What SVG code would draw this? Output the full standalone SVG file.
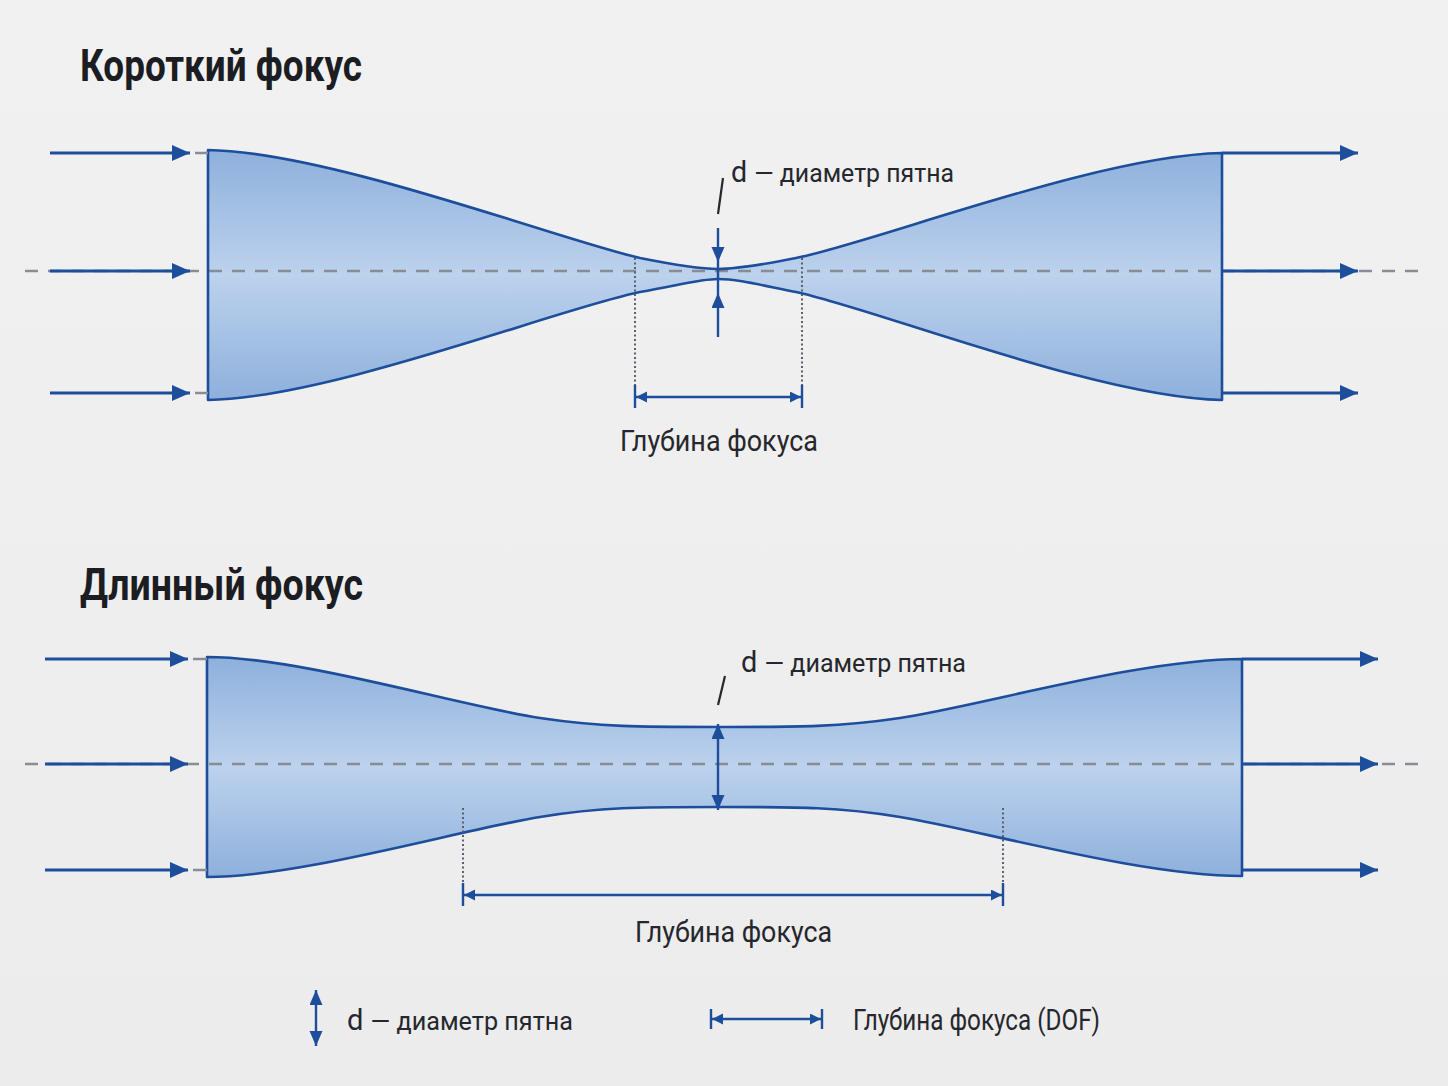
<svg xmlns="http://www.w3.org/2000/svg" width="1448" height="1086" viewBox="0 0 1448 1086">
<style>
.title{font-family:Roboto,"Liberation Sans",sans-serif;font-weight:700;font-size:44px;fill:#1c1d22}
.lbl{font-family:Roboto,"Liberation Sans",sans-serif;font-size:30px;fill:#26272c}
.sm{font-size:26px}
.beam{stroke:#1d4e9b;stroke-width:2.6;stroke-linejoin:round}
.axis{stroke:#878c95;stroke-width:2.5;stroke-dasharray:13 10;fill:none}
.gdash{stroke:#878c95;stroke-width:2.5}
.ray{stroke:#1d4e9b;stroke-width:2.8;fill:none}
.dim{stroke:#1d4e9b;stroke-width:2.4;fill:none}
.dot{stroke:#5d6068;stroke-width:2;stroke-dasharray:2 2.5;fill:none}
.lead{stroke:#26272c;stroke-width:2.2}
</style>
<defs>
<linearGradient id="bg" x1="0" y1="0" x2="0" y2="1">
<stop offset="0" stop-color="#f1f1f2"/><stop offset="1" stop-color="#ececed"/>
</linearGradient>
<linearGradient id="fill" x1="0" y1="0" x2="0" y2="1">
<stop offset="0" stop-color="#8eb0dc"/>
<stop offset="0.5" stop-color="#bcd2ed"/>
<stop offset="1" stop-color="#8eb0dc"/>
</linearGradient>
<marker id="ah" markerUnits="userSpaceOnUse" markerWidth="20" markerHeight="18" refX="18" refY="8" orient="auto-start-reverse">
<path d="M0,0 L18,8 L0,16 z" fill="#1d4e9b"/>
</marker>
<marker id="ahm" markerUnits="userSpaceOnUse" markerWidth="16" markerHeight="14" refX="15" refY="6.5" orient="auto-start-reverse">
<path d="M0,0 L15,6.5 L0,13 z" fill="#1d4e9b"/>
</marker>
<marker id="ahs" markerUnits="userSpaceOnUse" markerWidth="12" markerHeight="12" refX="11" refY="5.5" orient="auto-start-reverse">
<path d="M0,0 L11,5.5 L0,11 z" fill="#1d4e9b"/>
</marker>
</defs>
<rect width="1448" height="1086" fill="url(#bg)"/>

<!-- Short focus -->
<g id="title-short"><text class="title" x="80" y="81" textLength="282" lengthAdjust="spacingAndGlyphs">Короткий фокус</text></g>
<g id="beam-short">
<path fill="url(#fill)" d="M208,150 C330,152 560,240 640,258 C680,266 700,269 718,269 C736,269 756,266 796,258 C876,242 1100,155 1222,153 L1222,400 C1100,398 876,309 796,292 C756,284 736,279 718,279 C700,279 680,285 640,292 C560,308 330,398 208,400 Z"/>
<line class="axis" x1="25" y1="271" x2="1420" y2="271"/>
<path class="beam" fill="none" d="M208,400 L208,150 C330,152 560,240 640,258 C680,266 700,269 718,269 C736,269 756,266 796,258 C876,242 1100,155 1222,153 L1222,400 C1100,398 876,309 796,292 C756,284 736,279 718,279 C700,279 680,285 640,292 C560,308 330,398 208,400 Z"/>
</g>
<g id="dof-short">
<line class="dot" x1="635" y1="258" x2="635" y2="408"/>
<line class="dot" x1="802" y1="258" x2="802" y2="408"/>
<text class="lbl" x="620" y="451" textLength="198" lengthAdjust="spacingAndGlyphs">Глубина фокуса</text>
</g>
<g id="spot-short">
<line class="lead" x1="718" y1="214" x2="723" y2="178"/>
<text class="lbl" x="731" y="182" textLength="223" lengthAdjust="spacingAndGlyphs">d <tspan class="sm">— диаметр пятна</tspan></text>
</g>

<!-- Long focus -->
<g id="title-long"><text class="title" x="80" y="600" textLength="283" lengthAdjust="spacingAndGlyphs">Длинный фокус</text></g>
<g id="beam-long">
<path fill="url(#fill)" d="M207,657 C300,657 460,706 540,718 C600,727 640,727 718,727 C800,727 840,727 900,718 C980,706 1140,659 1242,659 L1242,876 C1140,876 980,830 900,817 C840,807 800,807 718,807 C640,807 600,807 540,817 C460,830 300,877 207,877 Z"/>
<line class="axis" x1="25" y1="764" x2="1420" y2="764"/>
<path class="beam" fill="none" d="M207,877 L207,657 C300,657 460,706 540,718 C600,727 640,727 718,727 C800,727 840,727 900,718 C980,706 1140,659 1242,659 L1242,876 C1140,876 980,830 900,817 C840,807 800,807 718,807 C640,807 600,807 540,817 C460,830 300,877 207,877 Z"/>
</g>
<g id="dof-long">
<line class="dot" x1="463" y1="808" x2="463" y2="905"/>
<line class="dot" x1="1003" y1="808" x2="1003" y2="905"/>
<text class="lbl" x="635" y="942" textLength="197" lengthAdjust="spacingAndGlyphs">Глубина фокуса</text>
</g>
<g id="spot-long">
<line class="lead" x1="718" y1="705" x2="725" y2="676"/>
<text class="lbl" x="741" y="672" textLength="225" lengthAdjust="spacingAndGlyphs">d <tspan class="sm">— диаметр пятна</tspan></text>
</g>

<!-- Legend -->
<g id="legend-d">
<text class="lbl" x="347" y="1030" textLength="226" lengthAdjust="spacingAndGlyphs">d <tspan class="sm">— диаметр пятна</tspan></text>
</g>
<g id="legend-dof">
<text class="lbl" x="853" y="1030" textLength="247" lengthAdjust="spacingAndGlyphs">Глубина фокуса (DOF)</text>
</g>

<g id="connectors">
<line class="gdash" x1="195" y1="153" x2="208" y2="153"/>
<line class="gdash" x1="195" y1="393" x2="208" y2="393"/>
<line class="ray" x1="50" y1="153" x2="190" y2="153" marker-end="url(#ah)"/>
<line class="ray" x1="50" y1="271" x2="190" y2="271" marker-end="url(#ah)"/>
<line class="ray" x1="50" y1="393" x2="190" y2="393" marker-end="url(#ah)"/>
<line class="ray" x1="1222" y1="153" x2="1358" y2="153" marker-end="url(#ah)"/>
<line class="ray" x1="1222" y1="271" x2="1358" y2="271" marker-end="url(#ah)"/>
<line class="ray" x1="1222" y1="393" x2="1358" y2="393" marker-end="url(#ah)"/>
<line class="dim" x1="718" y1="228" x2="718" y2="262" marker-end="url(#ahm)"/>
<line class="dim" x1="718" y1="262" x2="718" y2="293"/>
<line class="dim" x1="718" y1="337" x2="718" y2="293" marker-end="url(#ahm)"/>
<line class="dim" x1="636" y1="397" x2="801" y2="397" marker-start="url(#ahs)" marker-end="url(#ahs)"/>
<line class="dim" x1="635" y1="385" x2="635" y2="408"/>
<line class="dim" x1="802" y1="385" x2="802" y2="408"/>
<line class="gdash" x1="193" y1="659" x2="207" y2="659"/>
<line class="gdash" x1="193" y1="870" x2="207" y2="870"/>
<line class="ray" x1="45" y1="659" x2="188" y2="659" marker-end="url(#ah)"/>
<line class="ray" x1="45" y1="764" x2="188" y2="764" marker-end="url(#ah)"/>
<line class="ray" x1="45" y1="870" x2="188" y2="870" marker-end="url(#ah)"/>
<line class="ray" x1="1242" y1="659" x2="1378" y2="659" marker-end="url(#ah)"/>
<line class="ray" x1="1242" y1="764" x2="1378" y2="764" marker-end="url(#ah)"/>
<line class="ray" x1="1242" y1="870" x2="1378" y2="870" marker-end="url(#ah)"/>
<line class="dim" x1="718" y1="724" x2="718" y2="810" marker-start="url(#ahm)" marker-end="url(#ahm)"/>
<line class="dim" x1="464" y1="895" x2="1002" y2="895" marker-start="url(#ahs)" marker-end="url(#ahs)"/>
<line class="dim" x1="463" y1="883" x2="463" y2="906"/>
<line class="dim" x1="1003" y1="883" x2="1003" y2="906"/>
<line class="dim" x1="316" y1="990" x2="316" y2="1046" marker-start="url(#ahm)" marker-end="url(#ahm)"/>
<line class="dim" x1="712" y1="1019" x2="821" y2="1019" marker-start="url(#ahs)" marker-end="url(#ahs)"/>
<line class="dim" x1="711" y1="1009" x2="711" y2="1029"/>
<line class="dim" x1="822" y1="1009" x2="822" y2="1029"/>
</g>
</svg>
